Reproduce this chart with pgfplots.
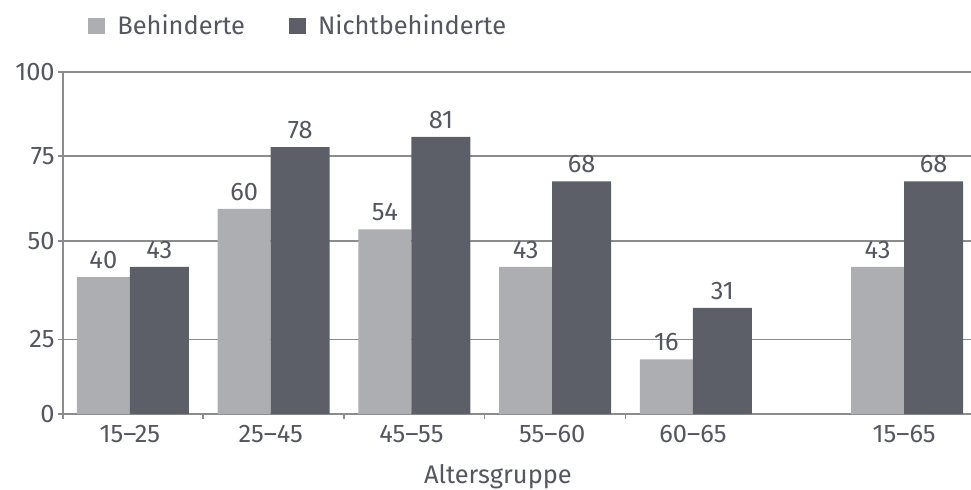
\documentclass[border=0pt]{standalone}
\usepackage{pgfplots}
\pgfplotsset{compat=1.18}
\usepackage{fontspec}
\setmainfont{Fira Sans}
\usetikzlibrary{calc}
\definecolor{lightbar}{HTML}{ADAEB2}
\definecolor{darkbar}{HTML}{5C5F68}
\definecolor{txt}{HTML}{54575F}
\definecolor{axgray}{HTML}{8C8C8E}
\begin{document}
\begin{tikzpicture}
\begin{axis}[
  name=ax,
  scale only axis,
  width=454pt, height=171pt,
  xmin=-0.475, xmax=5.975,
  ymin=0, ymax=100,
  axis x line=bottom, axis y line=left,
  x axis line style={-, draw=axgray, line width=0.8pt},
  y axis line style={-, draw=axgray, line width=0.8pt},
  tick style={draw=axgray, line width=0.8pt},
  tick align=outside,
  major tick length=2.5pt,
  xtick={-0.475,0.52,1.52,2.52,3.52},
  xticklabels={},
  extra x ticks={0,1,2,3,4,5.5},
  extra x tick labels={15--25,25--45,45--55,55--60,60--65,15--65},
  extra x tick style={major tick length=0pt, tick style={draw=none},
     xticklabel style={inner sep=0pt, anchor=north, yshift=-5.5pt}},
  ytick={0,21.8,50.6,75.4,100},
  yticklabels={0,25,50,75,100},
  yticklabel style={inner sep=0pt, anchor=east, xshift=-1.5pt},
  ymajorgrids,
  grid style={draw=axgray, line width=0.8pt},
  tick label style={font=\fontsize{12.7}{15}\selectfont, text=txt},
  xlabel={Altersgruppe},
  xlabel style={at={(axis description cs:0.479,0)}, anchor=north, yshift=-25pt, inner sep=0pt, font=\fontsize{12.7}{15}\selectfont, text=txt},
  ybar,
  nodes near coords,
  nodes near coords style={font=\fontsize{12.7}{15}\selectfont, text=txt, anchor=south, inner sep=0pt, yshift=4pt},
  /pgf/number format/assume math mode=true,
  legend columns=2,
  legend style={at={(axis description cs:0.0275,1.1345)}, anchor=west, draw=none, fill=none, inner sep=0pt,
     font=\fontsize{12.7}{15}\selectfont, text=txt,
     /tikz/every odd column/.append style={column sep=6pt},
     /tikz/every even column/.append style={column sep=22pt},
     nodes={inner sep=0pt, anchor=west}},
]
\addplot[fill=lightbar, draw=none, bar width=0.377, bar shift=-0.1885,
  legend image code/.code={\fill[lightbar] (0pt,-4pt) rectangle (8.5pt,4pt);}]
  coordinates {(0,40) (1,60) (2,54) (3,43) (4,16) (5.5,43)};
\addlegendentry{Behinderte}
\addplot[fill=darkbar, draw=none, bar width=0.419, bar shift=0.2095,
  legend image code/.code={\fill[darkbar] (0pt,-4pt) rectangle (8.5pt,4pt);}]
  coordinates {(0,43) (1,78) (2,81) (3,68) (4,31) (5.5,68)};
\addlegendentry{Nichtbehinderte}
\end{axis}
\pgfresetboundingbox
\path ($(ax.south west)+(-31.5pt,-37.5pt)$) rectangle ($(ax.south west)+(454pt,207pt)$);
\end{tikzpicture}
\end{document}
